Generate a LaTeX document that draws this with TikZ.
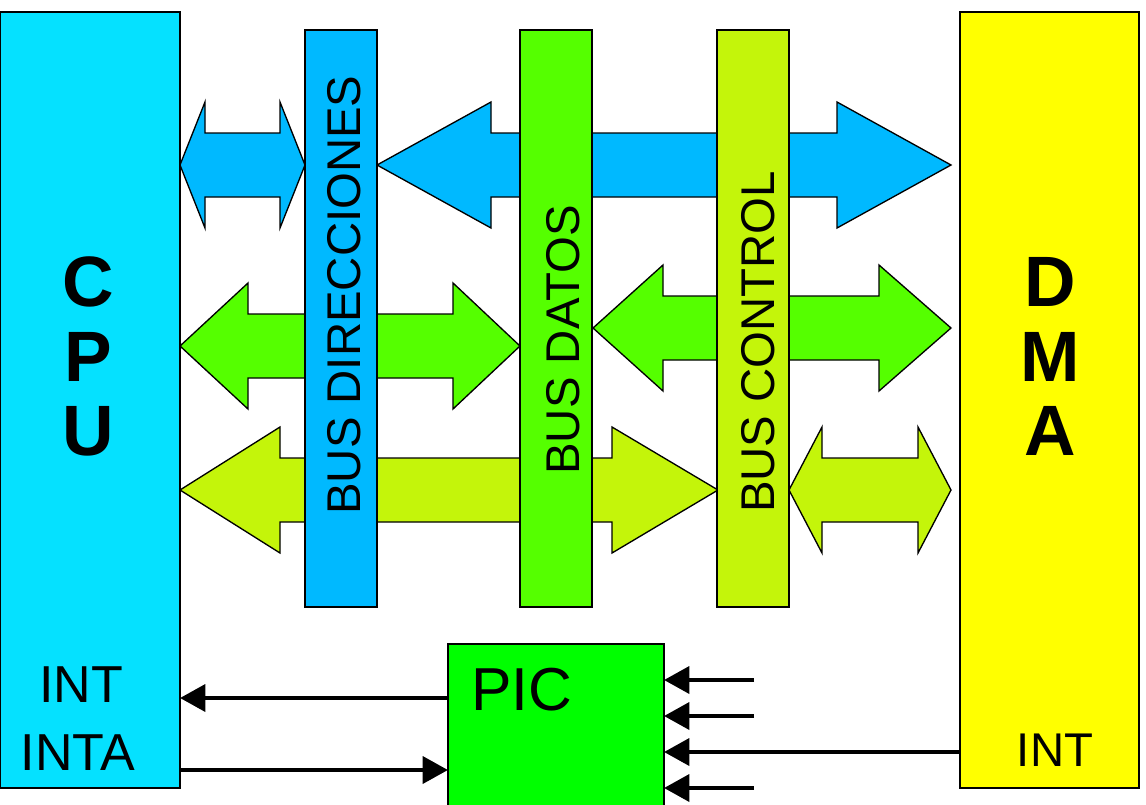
\documentclass[tikz,border=0pt]{standalone}
\usepackage{fontspec}
\setmainfont{Liberation Sans}
\usetikzlibrary{arrows.meta}
\definecolor{cpuc}{RGB}{5,225,255}
\definecolor{busblue}{RGB}{0,185,255}
\definecolor{busgreen}{RGB}{85,255,0}
\definecolor{buslime}{RGB}{196,245,10}
\definecolor{dmay}{RGB}{255,255,0}
\definecolor{picg}{RGB}{0,255,0}
\newcommand\fatarrow[6]{% style, x1, x2, yc, head left, head right
  \filldraw[fatarr,#1] (#2,#4) -- (#2+#5,#4-63) -- (#2+#5,#4-32) -- (#3-#6,#4-32) -- (#3-#6,#4-63) -- (#3,#4)
    -- (#3-#6,#4+63) -- (#3-#6,#4+32) -- (#2+#5,#4+32) -- (#2+#5,#4+63) -- cycle;}
\tikzset{
  box/.style={draw=black, line width=1pt, inner sep=0pt, outer sep=0pt, rectangle},
  fatarr/.style={draw=black, line width=1pt, line join=miter},
  bustext/.style={rotate=90, inner sep=0pt, font=\fontsize{35.5pt}{36pt}\selectfont},
  bigletter/.style={inner sep=0pt, font=\fontsize{53.5pt}{54pt}\selectfont\bfseries},
  sig/.style={line width=3.5pt, -{Triangle[length=19pt,width=20pt]}},
  sigtext/.style={inner sep=0pt, font=\fontsize{39pt}{40pt}\selectfont}
}
\begin{document}
\begin{tikzpicture}[x=0.75pt,y=-0.75pt]
\useasboundingbox (0,0) rectangle (1146,804);
\fill[white] (0,0) rectangle (1146,804);
% fat bus arrows (behind buses)
\fatarrow{fill=busblue}{180}{305}{165}{25}{25}
\fatarrow{fill=busblue}{377}{951}{165}{114}{114}
\fatarrow{fill=busgreen}{180}{520}{346}{68}{67}
\fatarrow{fill=busgreen}{593}{951}{328}{70}{72}
\fatarrow{fill=buslime}{180}{718}{490}{100}{106}
\fatarrow{fill=buslime}{789}{951}{490}{33}{33}
% main blocks
\node[box, fill=cpuc, minimum width=135pt, minimum height=582pt] (cpu) at (90,400) {};
\node[box, fill=dmay, minimum width=134.25pt, minimum height=582pt] (dma) at (1049.5,400) {};
\node[box, fill=busblue, minimum width=54pt, minimum height=432.75pt] (busdir) at (341,318.5) {};
\node[box, fill=busgreen, minimum width=54pt, minimum height=432.75pt] (busdat) at (556,318.5) {};
\node[box, fill=buslime, minimum width=54pt, minimum height=432.75pt] (busctl) at (753,318.5) {};
\node[box, fill=picg, minimum width=162pt, minimum height=128.25pt] (pic) at (556,729.5) {};
% bus labels
\node[bustext] (tdir) at (344,295) {BUS DIRECCIONES};
\node[bustext] (tdat) at (563,340) {BUS DATOS};
\node[bustext] (tctl) at (758,342) {BUS CONTROL};
% CPU / DMA letters
\node[bigletter] (c1) at (88,282) {C};
\node[bigletter] (c2) at (88,357) {P};
\node[bigletter] (c3) at (88,431) {U};
\node[bigletter] (d1) at (1050,282) {D};
\node[bigletter] (d2) at (1050,357) {M};
\node[bigletter] (d3) at (1050,431) {A};
% small texts
\node[sigtext] (tint) at (81,685) {INT};
\node[sigtext] (tinta) at (78,753) {INTA};
\node[inner sep=0pt, font=\fontsize{45.5pt}{46pt}\selectfont] (tpic) at (522,690) {PIC};
\node[inner sep=0pt, font=\fontsize{35.5pt}{36pt}\selectfont] (tdint) at (1055,750) {INT};
% signal arrows
\draw[sig] (pic.west |- 0,698) -- (cpu.east |- 0,698);
\draw[sig] (cpu.east |- 0,770) -- (pic.west |- 0,770);
\coordinate (s1) at (754,680);
\coordinate (s2) at (754,716);
\coordinate (s4) at (754,788);
\draw[sig] (s1) -- (pic.east |- s1);
\draw[sig] (s2) -- (pic.east |- s2);
\draw[sig] (dma.west |- 0,752) -- (pic.east |- 0,752);
\draw[sig] (s4) -- (pic.east |- s4);
\end{tikzpicture}
\end{document}
